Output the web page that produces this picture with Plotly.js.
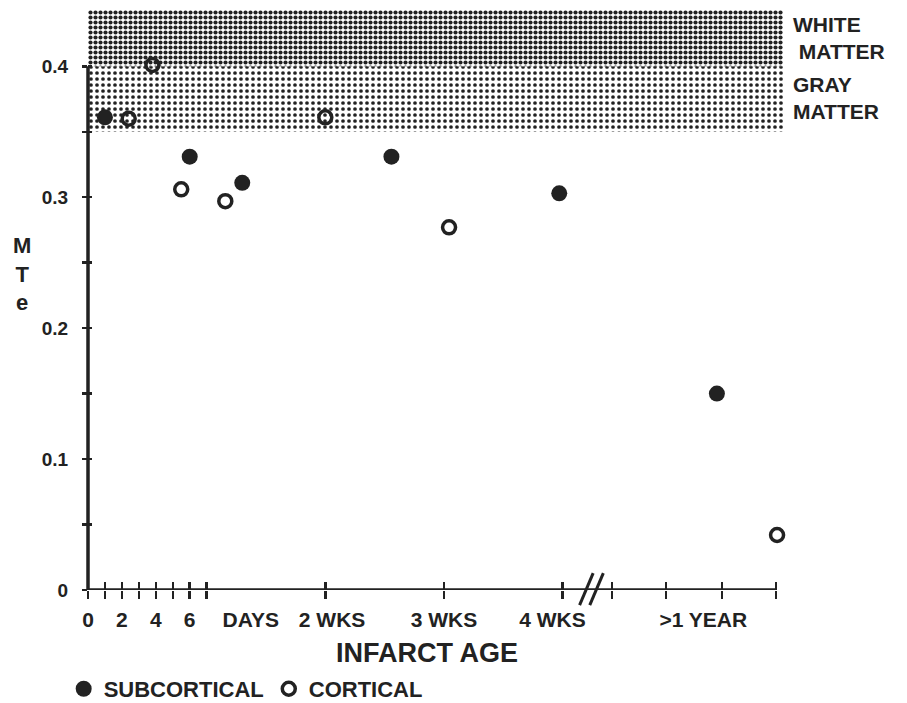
<!DOCTYPE html>
<html>
<head>
<meta charset="utf-8">
<script src="https://cdn.plot.ly/plotly-3.0.1.min.js"></script>
<style>html,body{margin:0;padding:0;background:#fff;}#chart{width:907px;height:703px;}</style>
</head>
<body>
<div id="chart"></div>
<script>
// ---- data (x in days; positions past the axis break are in the same axis units) ----
const subcorticalX = [1.0, 6.0, 9.1, 17.9, 27.8, 37.1];
const subcorticalY = [0.361, 0.331, 0.311, 0.331, 0.303, 0.150];
const corticalX = [2.4, 3.8, 5.5, 8.1, 14.0, 21.3, 40.65];
const corticalY = [0.360, 0.401, 0.306, 0.297, 0.361, 0.277, 0.042];

const grayMatterRange = [0.35, 0.40];
const whiteMatterRange = [0.40, 0.443];
const bandLabels = ['WHITE<br> MATTER', 'GRAY<br>MATTER'];

const xTickVals = [0, 1, 2, 3, 4, 5, 6, 7, 14, 21, 28, 30.9, 34.1, 37.4, 40.6];
const xLabelVals = [0, 2, 4, 6, 9.6, 14.4, 21.0, 27.4, 36.3];
const xLabelText = ['0', '2', '4', '6', 'DAYS', '2 WKS', '3 WKS', '4 WKS', '>1 YEAR'];
const yTickVals = [0, 0.05, 0.1, 0.15, 0.2, 0.25, 0.3, 0.35, 0.4];
const yTickText = ['0', '', '0.1', '', '0.2', '', '0.3', '', '0.4'];
const xMax = 40.6;
const breakAt = 29.7;

const ink = '#222';
const fam = '"Liberation Sans", Arial, Helvetica, sans-serif';
const XR = [0, 41];
const YR = [0, whiteMatterRange[1]];

function band(r, pat) {
  return {
    x: [XR[0], XR[1], XR[1], XR[0], XR[0]],
    y: [r[0], r[0], r[1], r[1], r[0]],
    type: 'scatter', mode: 'lines', fill: 'toself',
    line: {width: 0, color: 'rgba(0,0,0,0)'},
    fillcolor: 'rgba(0,0,0,0)',
    fillpattern: pat,
    showlegend: false, hoverinfo: 'skip'
  };
}
function axisHolder(xa, ya) {
  return {x: [], y: [], type: 'scatter', mode: 'markers', xaxis: xa, yaxis: ya,
          showlegend: false, hoverinfo: 'skip'};
}

const traces = [
  band(grayMatterRange, {shape: '.', size: 6, solidity: 0.3, fgcolor: ink, bgcolor: 'white'}),
  band(whiteMatterRange, {shape: '.', size: 5, solidity: 0.55, fgcolor: ink, bgcolor: 'white'}),
  axisHolder('x2', 'y'),
  axisHolder('x3', 'y'),
  axisHolder('x', 'y2'),
  {
    x: subcorticalX, y: subcorticalY, type: 'scatter', mode: 'markers',
    name: 'SUBCORTICAL', cliponaxis: false,
    marker: {symbol: 'circle', size: 16, color: ink}
  },
  {
    x: corticalX, y: corticalY, type: 'scatter', mode: 'markers',
    name: 'CORTICAL', cliponaxis: false,
    marker: {symbol: 'circle-open', size: 13, color: ink, line: {width: 3.5, color: ink}}
  }
];

const baseX = {range: XR, showgrid: false, zeroline: false, showline: false, fixedrange: true, automargin: false};
const baseY = {range: YR, showgrid: false, zeroline: false, showline: false, fixedrange: true, automargin: false};

const bandLabelAnn = bandLabels.map((t, i) => ({
  xref: 'paper', yref: 'y', x: 1.012,
  y: i === 0 ? 0.4215 : 0.3755,
  xanchor: 'left', yanchor: 'middle', text: t, showarrow: false, align: 'left',
  font: {family: fam, size: 21, color: ink, weight: 'bold'}
}));

const layout = {
  width: 907, height: 703,
  margin: {l: 88, r: 124, t: 10, b: 113},
  paper_bgcolor: 'white', plot_bgcolor: 'white',
  font: {family: fam, color: ink, weight: 'bold'},
  xaxis: Object.assign({}, baseX, {
    tickmode: 'array', tickvals: xTickVals, ticks: 'outside', ticklen: 8, tickwidth: 2.5,
    tickcolor: ink, showticklabels: false
  }),
  xaxis2: Object.assign({}, baseX, {
    overlaying: 'x', anchor: 'y', side: 'bottom',
    tickmode: 'array', tickvals: xTickVals, ticks: 'inside', ticklen: 8, tickwidth: 2.5,
    tickcolor: ink, showticklabels: false
  }),
  xaxis3: Object.assign({}, baseX, {
    overlaying: 'x', anchor: 'y', side: 'bottom',
    tickmode: 'array', tickvals: xLabelVals, ticktext: xLabelText, ticks: '',
    ticklabelstandoff: 15,
    tickfont: {family: fam, size: 21, color: ink, weight: 'bold'}
  }),
  yaxis: Object.assign({}, baseY, {
    tickmode: 'array', tickvals: yTickVals, ticktext: yTickText, ticks: 'outside', ticklen: 5, tickwidth: 2.5,
    tickcolor: ink, ticklabelstandoff: 10,
    tickfont: {family: fam, size: 19, color: ink, weight: 'bold'}
  }),
  yaxis2: Object.assign({}, baseY, {
    overlaying: 'y', anchor: 'x', side: 'left',
    tickmode: 'array', tickvals: yTickVals, ticks: 'inside', ticklen: 4, tickwidth: 2.5,
    tickcolor: ink, showticklabels: false
  }),
  showlegend: true,
  legend: {
    orientation: 'h', xref: 'paper', x: -0.035, xanchor: 'left',
    yref: 'container', y: 0.02, yanchor: 'middle',
    font: {family: fam, size: 22, color: ink, weight: 'bold'},
    itemwidth: 30, tracegroupgap: 0, bgcolor: 'rgba(0,0,0,0)'
  },
  shapes: [
    {type: 'line', xref: 'paper', yref: 'y', x0: 0, x1: 0, y0: 0, y1: whiteMatterRange[0],
     line: {color: ink, width: 3.5}, layer: 'above'},
    {type: 'line', xref: 'x', yref: 'y', x0: 0, x1: xMax, y0: 0, y1: 0,
     line: {color: ink, width: 3.5}, layer: 'above'},
    {type: 'line', xref: 'x', yref: 'paper', x0: breakAt - 0.7, x1: breakAt + 0.1, y0: -0.026, y1: 0.029,
     line: {color: ink, width: 3}, layer: 'above'},
    {type: 'line', xref: 'x', yref: 'paper', x0: breakAt - 0.1, x1: breakAt + 0.7, y0: -0.026, y1: 0.029,
     line: {color: ink, width: 3}, layer: 'above'}
  ],
  annotations: [
    {xref: 'paper', yref: 'paper', x: -0.095, y: 0.545, xanchor: 'center', yanchor: 'middle',
     text: 'M<br>T<br>e', showarrow: false, align: 'center',
     font: {family: fam, size: 22, color: ink, weight: 'bold'}},
    {xref: 'x', yref: 'paper', x: 20.0, y: -0.1086, xanchor: 'center', yanchor: 'middle',
     text: 'INFARCT AGE', showarrow: false,
     font: {family: fam, size: 27, color: ink, weight: 'bold'}}
  ].concat(bandLabelAnn)
};

Plotly.newPlot('chart', traces, layout, {displayModeBar: false, staticPlot: true});
</script>
</body>
</html>
